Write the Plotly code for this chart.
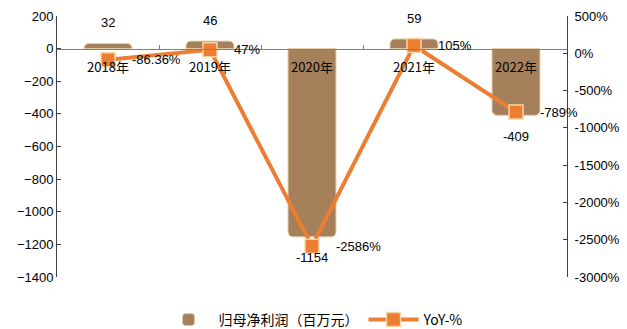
import plotly.graph_objects as go

years = ["2018年", "2019年", "2020年", "2021年", "2022年"]
profit = [32, 46, -1154, 59, -409]
yoy = [-86.36, 47, -2586, 105, -789]
yoy_text = ["-86.36%", "47%", "-2586%", "105%", "-789%"]

left_ticks = list(range(-1400, 201, 200))
right_ticks = list(range(-3000, 501, 500))
right_ticktext = [f"{v}%" for v in right_ticks]

FONT = "Liberation Sans, Arial, sans-serif"
BAR = "#A6805A"
ORANGE = "#ED7D31"

fig = go.Figure()
fig.add_trace(go.Bar(
    x=years, y=profit, name="归母净利润（百万元）",
    marker=dict(color=BAR, line=dict(color="#E3CDA8", width=1)),
    width=0.47, yaxis="y",
))
fig.add_trace(go.Scatter(
    x=years, y=yoy, name="YoY-%", mode="lines+markers",
    line=dict(color=ORANGE, width=4),
    marker=dict(symbol="square", size=14, color=ORANGE,
                line=dict(color="#F3D5A8", width=1.5)),
    yaxis="y2",
))

ann = []
for x, v in zip(years, profit):
    ann.append(dict(x=x, y=v, xref="x", yref="y", text=str(v), showarrow=False,
                    yshift=21 if v > 0 else -21,
                    font=dict(size=13, color="#000000", family=FONT)))
for x, v, t in zip(years, yoy, yoy_text):
    ann.append(dict(x=x, y=v, xref="x", yref="y2", text=t, showarrow=False,
                    xanchor="left", xshift=22,
                    font=dict(size=13, color="#000000", family=FONT)))

fig.update_layout(
    width=627, height=329,
    margin=dict(l=57, r=60, t=16, b=52, autoexpand=False),
    paper_bgcolor="white", plot_bgcolor="white",
    font=dict(family=FONT, size=13, color="#000000"),
    barcornerradius=5,
    showlegend=True,
    legend=dict(orientation="h", x=0.5, xanchor="center", xref="container",
                y=1 - 320 / 329, yanchor="middle", yref="container",
                font=dict(size=14, family="Noto Sans CJK SC, " + FONT),
                itemwidth=50, traceorder="normal"),
    xaxis=dict(type="category", range=[-0.5, 4.5], anchor="free", position=1400 / 1600,
               showline=True, linecolor="#7F7F7F", linewidth=1,
               ticks="inside", tickson="boundaries", ticklen=4, tickcolor="#7F7F7F",
               showgrid=False, automargin=False, ticklabelstandoff=7,
               tickfont=dict(size=13, family="Noto Sans CJK SC, " + FONT)),
    yaxis=dict(range=[-1400, 200], tickvals=left_ticks, showgrid=False, zeroline=False,
               showline=True, linecolor="#404040", linewidth=1, ticks="inside", ticklen=4,
               tickcolor="#404040", automargin=False, tickfont=dict(size=13)),
    yaxis2=dict(range=[-3000, 500], tickvals=right_ticks, ticktext=right_ticktext,
                overlaying="y", side="right", showgrid=False, zeroline=False,
                showline=True, linecolor="#404040", linewidth=1, ticks="inside", ticklen=4,
                tickcolor="#404040", automargin=False, ticklabelstandoff=4,
                tickfont=dict(size=13)),
    annotations=ann,
)

fig.write_html("out.html")
